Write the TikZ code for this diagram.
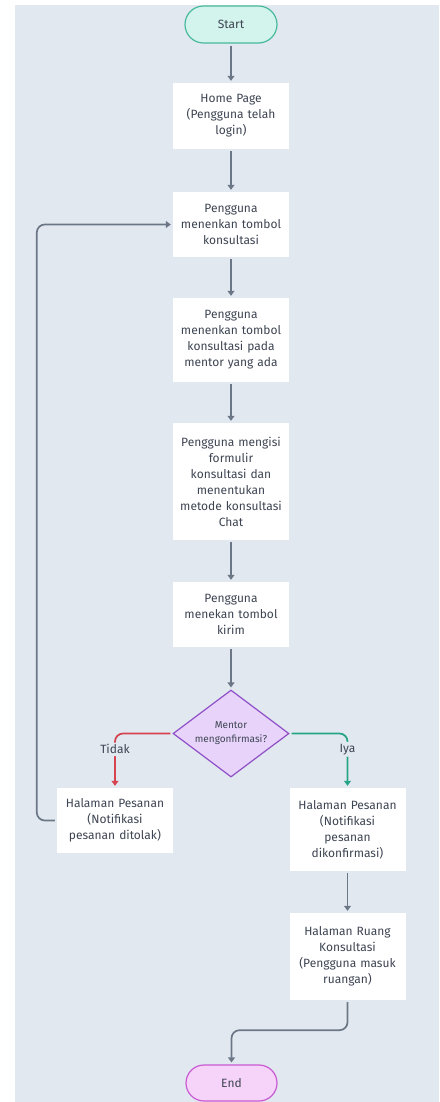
\documentclass[tikz,border=0pt]{standalone}
\usepackage{fontspec}
\setmainfont{Fira Sans}
\usetikzlibrary{arrows.meta,shapes.geometric,shapes.misc}
\definecolor{bgc}{HTML}{E2E8F0}
\definecolor{textc}{HTML}{3D4452}
\definecolor{grayc}{HTML}{6B7786}
\definecolor{redc}{HTML}{D5434F}
\definecolor{tealc}{HTML}{25A587}
\definecolor{startfill}{HTML}{D3F4EC}
\definecolor{startdraw}{HTML}{48B99C}
\definecolor{endfill}{HTML}{F6D3F8}
\definecolor{enddraw}{HTML}{C95AD3}
\definecolor{decfill}{HTML}{E8D4FB}
\definecolor{decdraw}{HTML}{8E4FC7}
\begin{document}
\begin{tikzpicture}[x=1pt,y=-1pt,
  font=\fontsize{12}{16}\selectfont, text=textc,
  term/.style={rounded rectangle, minimum width=92pt, minimum height=37pt, line width=1.2pt, inner sep=0pt},
  proc/.style={rectangle, fill=white, minimum width=116pt, text width=110pt, align=center, inner sep=0pt},
  dec/.style={diamond, aspect=1.33, fill=decfill, draw=decdraw, line width=1.2pt, minimum width=116pt, minimum height=87pt, inner sep=0pt, align=center, font=\fontsize{10}{14}\selectfont},
  conn/.style={draw=grayc, line width=1.7pt, -{Triangle[width=7pt,length=5pt]}, shorten >=2pt, shorten <=2pt},
  lbl/.style={fill=bgc, inner sep=2pt, font=\fontsize{12}{14}\selectfont}
]
\useasboundingbox (0,0) rectangle (439,1102);
\fill[bgc] (15,5) rectangle (439,1102);

\node[term, fill=startfill, draw=startdraw] (start) at (231,24.5) {Start};
\node[proc, minimum height=66pt] (b2) at (231,116) {Home Page\\(Pengguna telah\\login)};
\node[proc, minimum height=65pt] (b3) at (231,224.5) {Pengguna\\menenkan tombol\\konsultasi};
\node[proc, minimum height=84pt] (b4) at (231,340) {Pengguna\\menenkan tombol\\konsultasi pada\\mentor yang ada};
\node[proc, minimum height=117pt] (b5) at (231,481.5) {Pengguna mengisi\\formulir\\konsultasi dan\\menentukan\\metode konsultasi\\Chat};
\node[proc, minimum height=65pt] (b6) at (231,614.5) {Pengguna\\menekan tombol\\kirim};
\node[dec] (d) at (231,733.5) {Mentor\\mengonfirmasi?};
\node[proc, minimum height=65pt] (lb) at (115,820.5) {Halaman Pesanan\\(Notifikasi\\pesanan ditolak)};
\node[proc, minimum height=83pt] (rb) at (347.5,829.5) {Halaman Pesanan\\(Notifikasi\\pesanan\\dikonfirmasi)};
\node[proc, minimum height=87pt] (b8) at (347.5,956.5) {Halaman Ruang\\Konsultasi\\(Pengguna masuk\\ruangan)};
\node[term, fill=endfill, draw=enddraw, minimum width=91pt, minimum height=36pt] (end) at (231.5,1083) {End};

\draw[conn] (start.south) -- (b2.north);
\draw[conn] (b2.south) -- (b3.north);
\draw[conn] (b3.south) -- (b4.north);
\draw[conn] (b4.south) -- (b5.north);
\draw[conn] (b5.south) -- (b6.north);
\draw[conn] (b6.south) -- (d.north);
\draw[conn, draw=redc, rounded corners=8pt] (d.west) -| node[lbl, pos=0.645] (tidak) {Tidak} (lb.north);
\draw[conn, draw=tealc, rounded corners=8pt] (d.east) -| node[lbl, pos=0.645] (iya) {Iya} (rb.north);
\draw[conn, rounded corners=8pt] (lb.west) -- ++(-20,0) |- (b3.west);
\draw[conn] (rb.south) -- (b8.north);
\draw[conn, rounded corners=8pt] (b8.south) -- ++(0,30) -| (end.north);
\end{tikzpicture}
\end{document}
